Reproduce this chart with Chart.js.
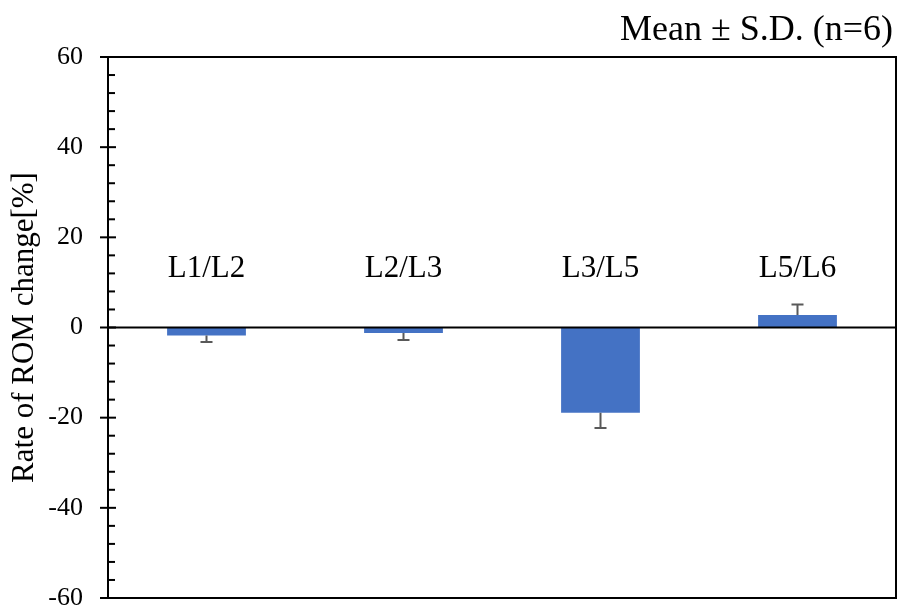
<!DOCTYPE html>
<html>
<head>
<meta charset="utf-8">
<script src="https://cdn.jsdelivr.net/npm/chart.js@4.4.1/dist/chart.umd.min.js"></script>
<style>
html,body{margin:0;padding:0;background:#fff;}
#wrap{width:899px;height:608px;}
</style>
</head>
<body>
<div id="wrap"><canvas id="c" width="899" height="608"></canvas></div>
<script>
const categories = ['L1/L2', 'L2/L3', 'L3/L5', 'L5/L6'];
const means = [-1.8, -1.2, -18.9, 2.8];
const sds = [1.4, 1.6, 3.4, 2.3];
const yTicks = [-60, -40, -20, 0, 20, 40, 60];
const titleText = 'Mean ± S.D. (n=6)';
const yTitle = 'Rate of ROM change[%]';
const labelLevel = 13;

const SERIF = '"Liberation Serif", "Times New Roman", serif';

const decor = {
  id: 'decor',
  afterDatasetsDraw(chart) {
    const {ctx, chartArea: a, scales: {x, y}} = chart;
    ctx.save();
    // error bars
    ctx.strokeStyle = '#595959';
    ctx.lineWidth = 2;
    means.forEach((m, i) => {
      const cx = x.getPixelForValue(i);
      const y0 = y.getPixelForValue(m);
      const end = m >= 0 ? m + sds[i] : m - sds[i];
      const y1 = y.getPixelForValue(end);
      ctx.beginPath();
      ctx.moveTo(cx, y0);
      ctx.lineTo(cx, y1);
      ctx.moveTo(cx - 6, y1);
      ctx.lineTo(cx + 6, y1);
      ctx.stroke();
    });
    // frame
    ctx.strokeStyle = '#000';
    ctx.lineWidth = 2;
    ctx.beginPath();
    ctx.moveTo(a.left, a.top); ctx.lineTo(a.right, a.top);
    ctx.lineTo(a.right, a.bottom); ctx.lineTo(a.left, a.bottom);
    ctx.stroke();
    // zero line
    const z = y.getPixelForValue(0);
    ctx.beginPath();
    ctx.moveTo(a.left, z); ctx.lineTo(a.right, z);
    ctx.stroke();
    // y axis
    ctx.beginPath();
    ctx.moveTo(a.left, a.top); ctx.lineTo(a.left, a.bottom);
    ctx.stroke();
    // major ticks
    yTicks.forEach(v => {
      const py = y.getPixelForValue(v);
      ctx.beginPath();
      ctx.moveTo(a.left - 8, py); ctx.lineTo(a.left + 8, py);
      ctx.stroke();
    });
    // minor ticks
    for (let v = y.min; v <= y.max; v += 4) {
      if (v % 20 === 0) continue;
      const py = y.getPixelForValue(v);
      ctx.beginPath();
      ctx.moveTo(a.left, py); ctx.lineTo(a.left + 7, py);
      ctx.stroke();
    }
    // category labels
    ctx.fillStyle = '#000';
    ctx.font = '31px ' + SERIF;
    ctx.textAlign = 'center';
    ctx.textBaseline = 'middle';
    const ly = y.getPixelForValue(labelLevel);
    categories.forEach((c, i) => {
      ctx.fillText(c, x.getPixelForValue(i), ly);
    });
    // title
    ctx.font = '36px ' + SERIF;
    ctx.textAlign = 'right';
    ctx.textBaseline = 'alphabetic';
    ctx.fillText(titleText, 893, 40);
    ctx.restore();
  }
};

new Chart(document.getElementById('c'), {
  type: 'bar',
  data: {
    labels: categories,
    datasets: [{
      data: means,
      backgroundColor: '#4472C4',
      borderWidth: 0,
      categoryPercentage: 1.0,
      barPercentage: 0.4
    }]
  },
  options: {
    responsive: false,
    animation: false,
    devicePixelRatio: 1,
    layout: {padding: {top: 57, right: 3, bottom: 10, left: 0}},
    plugins: {legend: {display: false}, tooltip: {enabled: false}, title: {display: false}},
    scales: {
      x: {display: false},
      y: {
        min: -60, max: 60,
        afterFit(scale) { scale.width = 108; scale.paddingTop = 0; scale.paddingBottom = 0; },
        afterBuildTicks(scale) { scale.ticks = yTicks.map(v => ({value: v})); },
        grid: {display: false, drawTicks: false},
        border: {display: false},
        ticks: {
          padding: 25,
          color: '#000',
          font: {family: SERIF, size: 26}
        },
        title: {
          display: true,
          text: yTitle,
          color: '#000',
          font: {family: SERIF, size: 31},
          padding: {top: 6, bottom: 0}
        }
      }
    }
  },
  plugins: [decor]
});
</script>
</body>
</html>
